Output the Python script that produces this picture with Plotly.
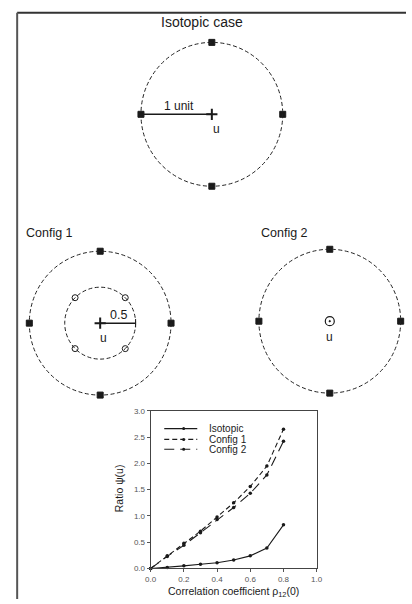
import plotly.graph_objects as go

# ---------------- data ----------------
rho = [0.0, 0.1, 0.2, 0.3, 0.4, 0.5, 0.6, 0.7, 0.8]
ratio_isotopic = [0.0, 0.02, 0.05, 0.08, 0.11, 0.16, 0.24, 0.39, 0.83]
ratio_config1 = [0.0, 0.24, 0.48, 0.71, 0.98, 1.25, 1.56, 1.95, 2.65]
ratio_config2 = [0.0, 0.23, 0.44, 0.68, 0.93, 1.16, 1.43, 1.78, 2.42]
series_names = ["Isotopic", "Config 1", "Config 2"]
x_ticks = [0.0, 0.2, 0.4, 0.6, 0.8, 1.0]
y_ticks = [0.0, 0.5, 1.0, 1.5, 2.0, 2.5, 3.0]

# sensor layouts (units: distance to estimation point u)
outer_radius = 1.0
inner_radius = 0.5
outer_x = [0.0, 1.0, 0.0, -1.0]
outer_y = [1.0, 0.0, -1.0, 0.0]
inner_x = [0.354, 0.354, -0.354, -0.354]
inner_y = [0.354, -0.354, 0.354, -0.354]
center_x = [0.0]
center_y = [0.0]

FONT = "Liberation Sans, Arial, sans-serif"
INK = "#1a1a1a"

fig = go.Figure()

# ---------------- chart ----------------
styles = [
    dict(dash="solid"),
    dict(dash="5px,3px"),
    dict(dash="10px,6px"),
]
for name, ys, st in zip(series_names, [ratio_isotopic, ratio_config1, ratio_config2], styles):
    fig.add_trace(go.Scatter(
        x=rho, y=ys, name=name, mode="lines+markers",
        line=dict(color=INK, width=1.1, dash=st["dash"]),
        marker=dict(color=INK, size=3.5),
        xaxis="x", yaxis="y", showlegend=False, cliponaxis=False,
    ))

# ---------------- diagrams ----------------
def sensors(xs, ys, ax, symbol, size, lw=1):
    fig.add_trace(go.Scatter(
        x=xs, y=ys, mode="markers", xaxis="x" + ax, yaxis="y" + ax,
        marker=dict(symbol=symbol, size=size, color=INK, line=dict(color=INK, width=lw)),
        showlegend=False, hoverinfo="skip", cliponaxis=False,
    ))

shapes = []
def circle(ax, r):
    shapes.append(dict(type="circle", xref="x" + ax, yref="y" + ax,
                       x0=-r, x1=r, y0=-r, y1=r,
                       line=dict(color="#222", width=1, dash="4px,2.5px")))

# Isotopic (axis 2)
circle("2", outer_radius)
shapes.append(dict(type="line", xref="x2", yref="y2", x0=-outer_radius, x1=0, y0=0, y1=0,
                   line=dict(color=INK, width=1.5)))
sensors(outer_x, outer_y, "2", "square", 6)
sensors(center_x, center_y, "2", "cross-thin", 8, lw=2)

# Config 1 (axis 3)
circle("3", outer_radius)
circle("3", inner_radius)
shapes.append(dict(type="line", xref="x3", yref="y3", x0=0, x1=inner_radius, y0=0, y1=0,
                   line=dict(color=INK, width=1.5)))
sensors(outer_x, outer_y, "3", "square", 6)
sensors(inner_x, inner_y, "3", "circle-open", 6, lw=1)
sensors(center_x, center_y, "3", "cross-thin", 8, lw=2)
sensors([inner_radius], [0.0], "3", "line-ns", 6, lw=1)

# Config 2 (axis 4)
circle("4", outer_radius)
sensors(outer_x, outer_y, "4", "square", 6)
sensors(center_x, center_y, "4", "circle-open-dot", 9, lw=1.2)

# ---------------- frame ----------------
ytop = 1 - 9 / 604
xl = 11.5 / 412
shapes.append(dict(type="line", xref="paper", yref="paper", x0=xl, x1=1.0, y0=ytop, y1=ytop,
                   line=dict(color="#333", width=2)))
shapes.append(dict(type="line", xref="paper", yref="paper", x0=xl, x1=xl, y0=0, y1=ytop,
                   line=dict(color="#555", width=2)))

# ---------------- manual legend ----------------
leg_y = [1 - 431 / 604, 1 - 442 / 604, 1 - 452 / 604]
annotations = []
for name, st, yy in zip(series_names, styles, leg_y):
    shapes.append(dict(type="line", xref="paper", yref="paper",
                       x0=163 / 412, x1=197 / 412, y0=yy, y1=yy,
                       line=dict(color=INK, width=1.1, dash=st["dash"])))
    shapes.append(dict(type="circle", xref="paper", yref="paper", xsizemode="pixel", ysizemode="pixel",
                       xanchor=183 / 412, yanchor=yy, x0=-1.5, x1=1.5, y0=-1.5, y1=1.5,
                       fillcolor=INK, line=dict(width=0)))
    annotations.append(dict(text=name, xref="paper", yref="paper", x=207 / 412, y=yy,
                            xanchor="left", yanchor="middle", showarrow=False,
                            font=dict(family=FONT, size=10, color="#222")))

# ---------------- text ----------------
def note(text, x, y, size, xref="paper", yref="paper", **kw):
    annotations.append(dict(text=text, x=x, y=y, xref=xref, yref=yref, showarrow=False,
                            xanchor="center", yanchor="middle",
                            font=dict(family=FONT, size=size, color="#1a1a1a"), **kw))

note("Isotopic case", 202 / 412, 1 - 18 / 604, 14)
note("Config 1", 45 / 412, 1 - 232 / 604, 12.5)
note("Config 2", 287 / 412, 1 - 232 / 604, 12.5)
note("1 unit", -0.47, 0.12, 12, xref="x2", yref="y2")
note("u", 0.06, -0.21, 12, xref="x2", yref="y2")
note("0.5", 0.26, 0.12, 12.5, xref="x3", yref="y3")
note("u", 0.04, -0.2, 12, xref="x3", yref="y3")
note("u", 0.0, -0.22, 12, xref="x4", yref="y4")
note("Correlation coefficient ρ<sub>12</sub>(0)", 234 / 412, 1 - 596.5 / 604, 10.5)
note("Ratio ψ(u)", 116 / 412, 1 - 492 / 604, 10.5, textangle=-90)

hidden = dict(visible=False, showgrid=False, zeroline=False, fixedrange=True)
tickfont = dict(family=FONT, size=8, color="#555")

fig.update_layout(
    width=412, height=604,
    margin=dict(l=0, r=0, t=0, b=0),
    paper_bgcolor="white", plot_bgcolor="rgba(0,0,0,0)",
    showlegend=False,
    xaxis=dict(domain=[149 / 412, 320 / 412], range=[0, 1.0], tickvals=x_ticks,
               ticktext=[f"{v:.1f}" for v in x_ticks], ticks="outside", ticklen=3,
               tickcolor="#555", showline=True, mirror=True, linecolor="#444", linewidth=1,
               showgrid=False, zeroline=False, tickfont=tickfont, anchor="y"),
    yaxis=dict(domain=[1 - 573 / 604, 1 - 413 / 604], range=[0, 3.0], tickvals=y_ticks,
               ticktext=[f"{v:.1f}" for v in y_ticks], ticks="outside", ticklen=3,
               tickcolor="#555", showline=True, mirror=True, linecolor="#444", linewidth=1,
               showgrid=False, zeroline=False, tickfont=tickfont, anchor="x"),
    xaxis2=dict(domain=[0.2931, 0.7361], range=[-1.25, 1.25], anchor="y2", **hidden),
    yaxis2=dict(domain=[0.6635, 0.9657], range=[-1.25, 1.25], anchor="x2", **hidden),
    xaxis3=dict(domain=[0.01396, 0.4569], range=[-1.25, 1.25], anchor="y3", **hidden),
    yaxis3=dict(domain=[0.3125, 0.6147], range=[-1.25, 1.25], anchor="x3", **hidden),
    xaxis4=dict(domain=[0.6, 1.0], range=[-1.182, 1.075], anchor="y4", **hidden),
    yaxis4=dict(domain=[0.3158, 0.6180], range=[-1.25, 1.25], anchor="x4", **hidden),
    shapes=shapes,
    annotations=annotations,
)

fig.write_html(
    "out.html",
    config={"displayModeBar": False},
    post_script="document.body.style.margin='0';document.body.style.padding='0';"
                "document.documentElement.style.overflow='hidden';",
)
